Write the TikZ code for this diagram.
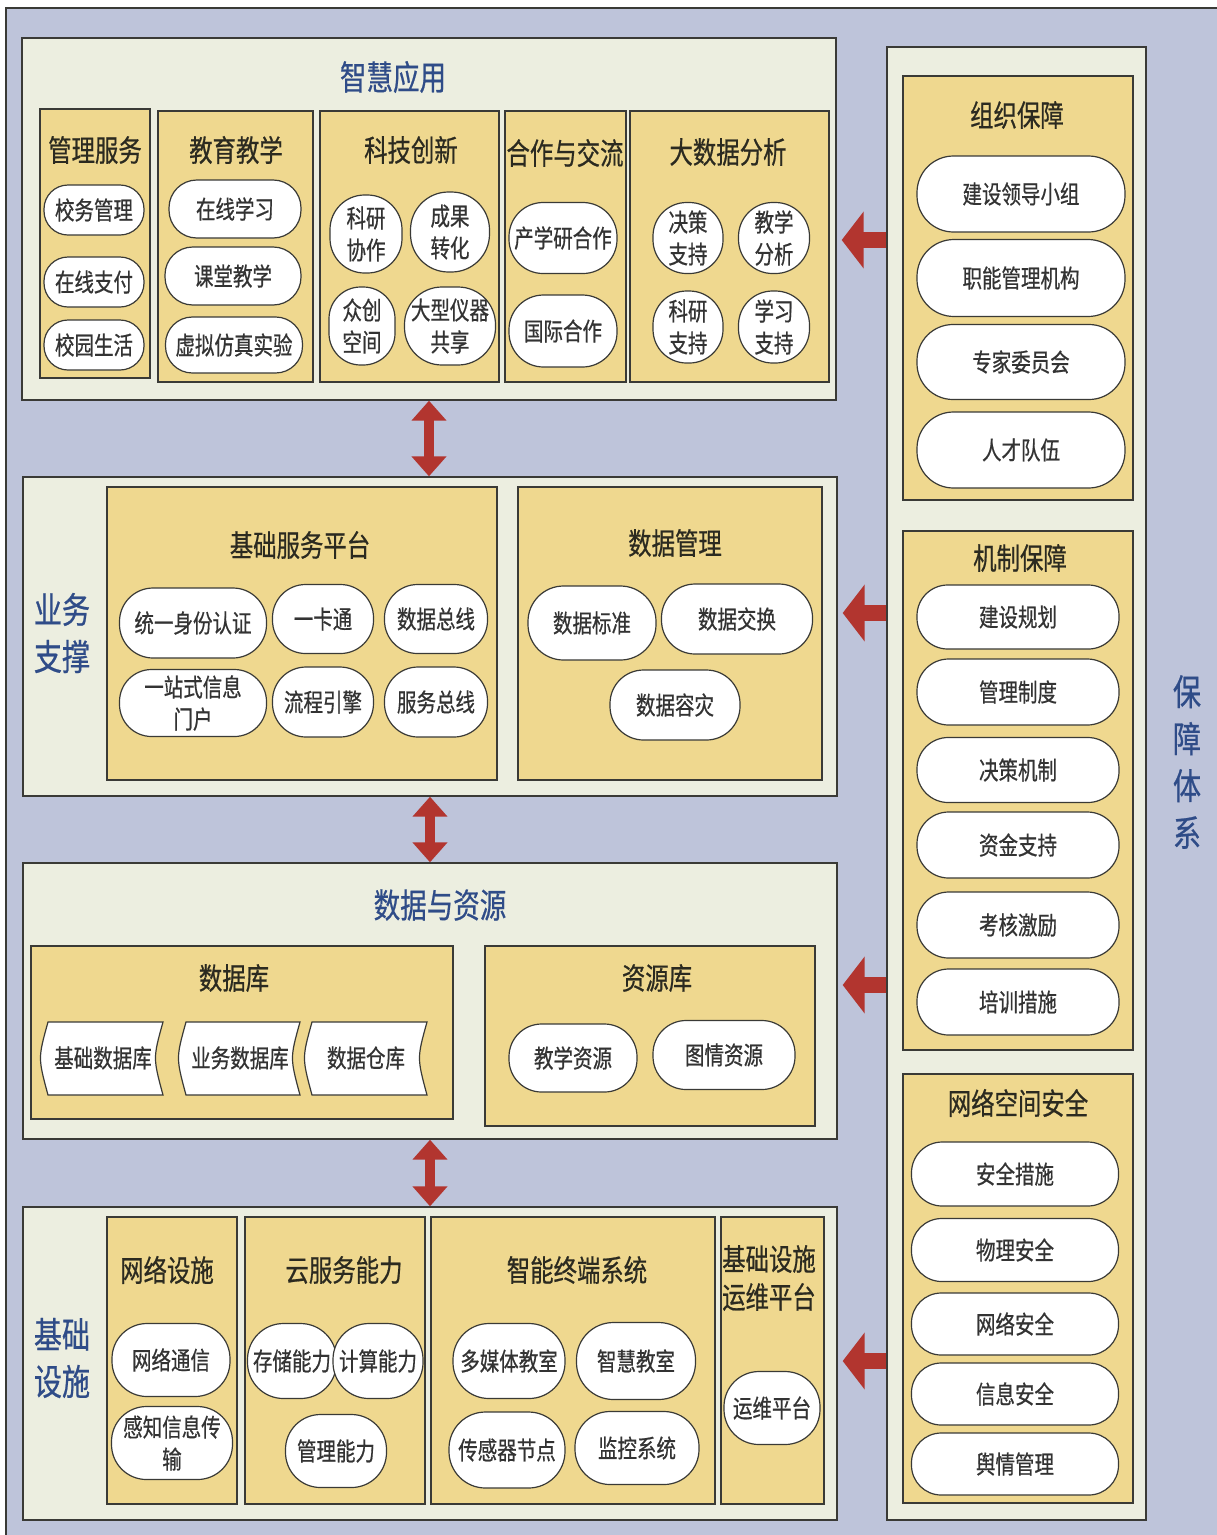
\documentclass[tikz,border=0pt]{standalone}
\usepackage{fontspec}
\setmainfont{Noto Sans CJK SC}[FakeStretch=0.78,FakeBold=0.6]
\usetikzlibrary{fit,arrows.meta}
\definecolor{lav}{HTML}{BEC4DA}
\definecolor{cream}{HTML}{ECEEE0}
\definecolor{yel}{HTML}{EFD88F}
\definecolor{navy}{HTML}{2F4C88}
\definecolor{ink}{HTML}{2B2A20}
\definecolor{ptc}{HTML}{333333}
\definecolor{ared}{HTML}{B2352F}
\definecolor{edge}{HTML}{3A3A36}
\newcommand\fPill{\fontsize{25}{32}\selectfont}
\newcommand\fTitle{\fontsize{30}{38}\selectfont}
\newcommand\fLayer{\fontsize{34}{40}\selectfont}
\newcommand\fSide{\fontsize{36}{47}\selectfont}
\tikzset{
  frame/.style={draw=edge, fill=lav, line width=1.4pt, inner sep=0pt},
  layer/.style={draw=edge, fill=cream, line width=1.4pt, inner sep=0pt},
  ybox/.style={draw=edge, fill=yel, line width=1.4pt, inner sep=0pt},
  ltitle/.style={font=\fLayer, text=navy, inner sep=0pt},
  vlabel/.style={font=\fSide, text=navy, align=center, inner sep=0pt},
  ytitle/.style={font=\fTitle, text=ink, align=center, inner sep=0pt},
  pill/.style 2 args={draw=edge, fill=white, line width=1.2pt, inner sep=0pt,
    minimum width=#1, minimum height=#2, rounded corners={0.48*min(#1,#2)},
    font=\fPill, text=ptc, align=center},
  tapetxt/.style={font=\fPill, text=ptc, inner sep=0pt},
  tapeshape/.style={draw=edge, fill=white, line width=1.2pt},
  vdbl/.style={draw=ared, line width=10pt,
    {Triangle[width=34pt,length=20pt]}-{Triangle[width=34pt,length=20pt]}},
  larr/.style={draw=ared, line width=16pt, shorten >=5pt,
    -{Triangle[width=56pt,length=22pt]}}
}
\begin{document}
\begin{tikzpicture}[x=1pt,y=-1pt]
\useasboundingbox (0,0) rectangle (1217,1535);
\fill[white] (0,0) rectangle (1217,1535);
\node[frame, fit={(6,8)(1230,1545)}] (frame) {};

% layers
\node[layer, fit={(22,38)(836,400)}] (L1) {};
\node[layer, fit={(23,477)(837,796)}] (L2) {};
\node[layer, fit={(23,863)(837,1139)}] (L3) {};
\node[layer, fit={(23,1207)(837,1520)}] (L4) {};
\node[layer, fit={(887,47)(1146,1520)}] (G) {};

% ---------- layer 1 ----------
\node[ltitle] (t1) at (393,77) {智慧应用};
\node[ybox, fit={(40,109)(150,378)}] (B11) {};
\node[ybox, fit={(158,111)(313,382)}] (B12) {};
\node[ybox, fit={(320,111)(499,382)}] (B13) {};
\node[ybox, fit={(505,111)(626,382)}] (B14) {};
\node[ybox, fit={(630,111)(829,382)}] (B15) {};
\node[ytitle] (tB11) at (95,150) {管理服务};
\node[ytitle] (tB12) at (236,150) {教育教学};
\node[ytitle] (tB13) at (411,150) {科技创新};
\node[ytitle] (tB14) at (565,153) {合作与交流};
\node[ytitle] (tB15) at (728,152) {大数据分析};

\node[pill={100}{50}] (p111) at (94,210) {校务管理};
\node[pill={100}{50}] (p112) at (94,282) {在线支付};
\node[pill={100}{50}] (p113) at (94,345) {校园生活};
\node[pill={132}{58}] (p121) at (235,209) {在线学习};
\node[pill={136}{58}] (p122) at (233,276) {课堂教学};
\node[pill={137}{56}] (p123) at (234,345) {虚拟仿真实验};
\node[pill={72}{78}] (p131) at (366,234) {科研\\协作};
\node[pill={79}{80}] (p132) at (450,232) {成果\\转化};
\node[pill={66}{78}] (p133) at (362,326) {众创\\空间};
\node[pill={91}{78}] (p134) at (450,326) {大型仪器\\共享};
\node[pill={108}{71}] (p141) at (563,238) {产学研合作};
\node[pill={108}{72}] (p142) at (563,331) {国际合作};
\node[pill={70}{71}] (p151) at (688,238) {决策\\支持};
\node[pill={71}{71}] (p152) at (774,238) {教学\\分析};
\node[pill={70}{72}] (p153) at (688,327) {科研\\支持};
\node[pill={71}{72}] (p154) at (774,327) {学习\\支持};

% ---------- layer 2 ----------
\node[vlabel] (t2) at (62,633) {业务\\支撑};
\node[ybox, fit={(107,487)(497,780)}] (B21) {};
\node[ybox, fit={(518,487)(822,780)}] (B22) {};
\node[ytitle] (tB21) at (300,545) {基础服务平台};
\node[ytitle] (tB22) at (675,543) {数据管理};
\node[pill={147}{70}] (p211) at (193,623) {统一身份认证};
\node[pill={101}{69}] (p212) at (323,619) {一卡通};
\node[pill={103}{69}] (p213) at (436,619) {数据总线};
\node[pill={147}{67}] (p214) at (193,703) {一站式信息\\门户};
\node[pill={101}{70}] (p215) at (323,702) {流程引擎};
\node[pill={103}{70}] (p216) at (436,702) {服务总线};
\node[pill={128}{74}] (p221) at (592,623) {数据标准};
\node[pill={151}{70}] (p222) at (737,619) {数据交换};
\node[pill={130}{70}] (p223) at (675,705) {数据容灾};

% ---------- layer 3 ----------
\node[ltitle] (t3) at (440,905) {数据与资源};
\node[ybox, fit={(31,946)(453,1119)}] (B31) {};
\node[ybox, fit={(485,946)(815,1126)}] (B32) {};
\node[ytitle] (tB31) at (234,978) {数据库};
\node[ytitle] (tB32) at (657,978) {资源库};
\draw[tapeshape] (48,1022) .. controls (38,1058) .. (48,1095) -- (163,1095) .. controls (153,1058) .. (163,1022) -- cycle;
\draw[tapeshape] (186,1022) .. controls (176,1058) .. (186,1095) -- (300,1095) .. controls (290,1058) .. (300,1022) -- cycle;
\draw[tapeshape] (312,1022) .. controls (302,1058) .. (312,1095) -- (427,1095) .. controls (417,1058) .. (427,1022) -- cycle;
\node[tapetxt] (d1) at (103,1058) {基础数据库};
\node[tapetxt] (d2) at (240,1058) {业务数据库};
\node[tapetxt] (d3) at (366,1058) {数据仓库};
\node[pill={128}{68}] (p321) at (573,1058) {教学资源};
\node[pill={142}{69}] (p322) at (724,1055) {图情资源};

% ---------- layer 4 ----------
\node[vlabel] (t4) at (62,1358) {基础\\设施};
\node[ybox, fit={(107,1217)(237,1504)}] (B41) {};
\node[ybox, fit={(245,1217)(425,1504)}] (B42) {};
\node[ybox, fit={(431,1217)(715,1504)}] (B43) {};
\node[ybox, fit={(721,1217)(824,1504)}] (B44) {};
\node[ytitle] (tB41) at (167,1270) {网络设施};
\node[ytitle] (tB42) at (344,1270) {云服务能力};
\node[ytitle] (tB43) at (577,1270) {智能终端系统};
\node[ytitle] (tB44) at (769,1278) {基础设施\\运维平台};
\node[pill={118}{73}] (p411) at (171,1360) {网络通信};
\node[pill={121}{73}] (p412) at (172,1443) {感知信息传\\输};
\node[pill={89}{75}] (p421) at (292,1361) {存储能力};
\node[pill={90}{75}] (p422) at (378,1361) {计算能力};
\node[pill={101}{73}] (p423) at (336,1451) {管理能力};
\node[pill={112}{75}] (p431) at (509,1361) {多媒体教室};
\node[pill={119}{77}] (p432) at (636,1361) {智慧教室};
\node[pill={116}{76}] (p433) at (507,1450) {传感器节点};
\node[pill={124}{73}] (p434) at (637,1448) {监控系统};
\node[pill={96}{73}] (p441) at (772,1408) {运维平台};

% ---------- right column ----------
\node[vlabel] (tg) at (1187,762) {保\\障\\体\\系};
\node[ybox, fit={(903,76)(1133,500)}] (G1) {};
\node[ybox, fit={(903,531)(1133,1050)}] (G2) {};
\node[ybox, fit={(903,1074)(1133,1503)}] (G3) {};
\node[ytitle] (tG1) at (1017,115) {组织保障};
\node[ytitle] (tG2) at (1020,558) {机制保障};
\node[ytitle] (tG3) at (1018,1103) {网络空间安全};
\node[pill={208}{76}] (g11) at (1021,194) {建设领导小组};
\node[pill={208}{77}] (g12) at (1021,278) {职能管理机构};
\node[pill={208}{75}] (g13) at (1021,362) {专家委员会};
\node[pill={208}{76}] (g14) at (1021,450) {人才队伍};
\node[pill={202}{64}] (g21) at (1018,617) {建设规划};
\node[pill={202}{66}] (g22) at (1018,692) {管理制度};
\node[pill={202}{65}] (g23) at (1018,770) {决策机制};
\node[pill={202}{66}] (g24) at (1018,845) {资金支持};
\node[pill={202}{66}] (g25) at (1018,925) {考核激励};
\node[pill={202}{66}] (g26) at (1018,1002) {培训措施};
\node[pill={207}{64}] (g31) at (1015,1174) {安全措施};
\node[pill={207}{63}] (g32) at (1015,1250) {物理安全};
\node[pill={207}{62}] (g33) at (1015,1324) {网络安全};
\node[pill={207}{62}] (g34) at (1015,1394) {信息安全};
\node[pill={207}{62}] (g35) at (1015,1464) {舆情管理};

% ---------- arrows ----------
\draw[vdbl] (L1.south) -- (L1.south |- L2.north);
\draw[vdbl] (L2.south) -- (L2.south |- L3.north);
\draw[vdbl] (L3.south) -- (L3.south |- L4.north);
\coordinate (a1) at (0,240);
\coordinate (a2) at (0,613);
\coordinate (a3) at (0,985);
\coordinate (a4) at (0,1361);
\draw[larr] (G.west |- a1) -- (L1.east |- a1);
\draw[larr] (G.west |- a2) -- (L2.east |- a2);
\draw[larr] (G.west |- a3) -- (L3.east |- a3);
\draw[larr] (G.west |- a4) -- (L4.east |- a4);
\end{tikzpicture}
\end{document}
